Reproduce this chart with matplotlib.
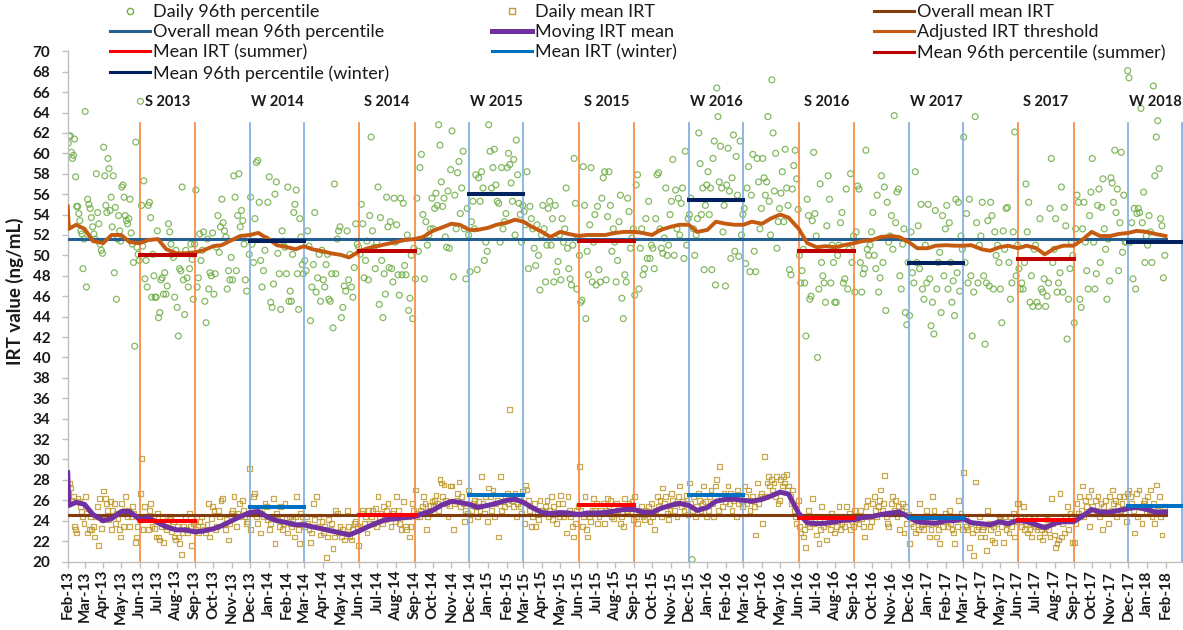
import numpy as np
import pandas as pd
import matplotlib
matplotlib.use("Agg")
import matplotlib.pyplot as plt
import matplotlib.dates as mdates
from matplotlib.lines import Line2D

plt.rcParams['font.family'] = ['Lato', 'DejaVu Sans']

# ---------------------------------------------------------------------------
# Daily 96th percentile of IRT (ng/mL), grouped by calendar month
# ---------------------------------------------------------------------------
p96_2013 = [
    [61.0, 61.7, 61.7, 60.1, 59.5, 59.8, 61.4, 57.7, 54.8, 54.8, 54.1, 53.4, 52.4, 52.1, 48.7, 51.6],
    [64.1, 46.9, 55.5, 55.0, 54.6, 53.7, 52.8, 52.1, 51.6, 58.0, 54.2, 53.1, 51.1, 50.5, 50.2],
    [60.6, 57.8, 54.9, 54.2, 59.5, 58.5, 54.4, 55.7, 52.8, 57.8, 48.3, 54.7, 45.7, 51.6, 53.9, 52.4, 51.4],
    [56.7, 56.9, 55.7, 53.9, 53.4, 53.1, 53.6, 55.5, 52.2, 51.1, 49.3, 41.1, 61.1, 50.8, 50.1, 49.5],
    [65.1, 54.9, 50.9, 57.3, 47.7, 49.5, 46.9, 54.9, 55.2, 53.7, 45.9, 50.1, 48.0, 45.9, 45.9, 52.4],
    [43.9, 44.4, 47.6, 47.8, 46.2, 48.3, 46.2, 47.0, 53.1, 52.3, 51.1, 50.1, 49.8, 45.9, 50.5],
    [44.9, 42.1, 48.7, 48.5, 56.7, 47.6, 44.2, 50.5, 47.8, 46.9, 48.7, 51.1, 49.6, 45.7, 51.1],
    [56.4, 46.9, 47.8, 52.1, 49.5, 50.5, 52.3, 45.5, 43.4, 51.6, 46.7, 48.3, 48.0, 52.2],
    [46.2, 48.2, 50.8, 53.9, 50.3, 52.8, 55.5, 53.2, 52.4, 51.8, 46.7, 48.5, 47.6, 49.8],
    [47.6, 57.8, 55.7, 48.5, 53.9, 58.0, 52.8, 54.4, 53.4, 51.1, 47.6, 46.5, 51.8, 50.1],
    [55.7, 51.1, 49.3, 53.6, 59.1, 59.3, 55.2, 49.5, 46.9, 48.5, 50.5, 51.6, 55.2],
]
p96_2014 = [
    [57.7, 45.4, 44.9, 47.2, 56.0, 57.2, 50.2, 48.2, 44.7, 52.4, 51.4, 50.8, 48.2],
    [56.7, 45.5, 46.5, 45.5, 50.1, 54.2, 55.0, 56.4, 48.2, 44.7, 53.6, 51.8, 49.1, 48.2],
    [49.5, 48.5, 52.4, 50.9, 43.6, 46.9, 49.1, 54.2, 46.4, 47.8, 50.1, 45.5, 50.5],
    [47.6, 46.9, 49.1, 50.1, 45.7, 45.5, 48.2, 42.9, 57.0, 48.2, 51.6, 52.4, 52.8],
    [43.9, 44.9, 47.0, 46.5, 52.4, 47.6, 50.1, 46.9, 45.9, 48.8, 53.1, 51.1, 50.8],
    [50.1, 55.0, 53.1, 47.8, 49.5, 51.4, 47.6, 53.9, 61.6, 52.4, 50.8, 48.7, 51.3],
    [56.7, 45.2, 53.7, 49.5, 43.9, 48.2, 46.2, 55.7, 52.8, 48.8, 53.3, 48.7, 47.4, 55.6, 51.3],
    [53.0, 48.1, 46.1, 55.6, 48.1, 55.1, 49.0, 48.1, 52.0, 44.6, 45.8, 50.0, 43.8, 50.7],
    [47.7, 55.6, 50.4, 58.6, 59.9, 54.0, 47.7, 53.3, 51.0, 52.0, 52.6, 55.6],
    [52.6, 54.6, 56.1, 54.9, 62.8, 60.8, 57.2, 54.8, 55.6, 51.8, 50.8, 56.3, 50.7, 58.4],
    [62.2, 47.9, 55.9, 52.6, 58.1, 59.2, 54.1, 56.6, 60.2, 52.6, 47.7, 54.6, 52.0],
    [48.4, 53.3, 55.3, 52.6, 57.9, 48.6, 57.6, 55.3, 58.2, 56.6, 49.5, 51.3, 50.4],
]
p96_2015 = [
    [62.8, 60.2, 56.6, 58.6, 60.4, 56.9, 55.3, 55.1, 51.3, 58.6, 52.6, 53.3, 54.1],
    [58.6, 60.0, 58.9, 57.1, 55.3, 59.4, 52.0, 61.3, 57.9, 55.1, 54.0, 51.3, 54.9],
    [54.3, 53.0, 58.2, 48.7, 54.8, 53.6, 52.6, 50.7, 49.0, 53.0, 50.0, 46.6, 52.0],
    [54.9, 52.6, 47.4, 51.0, 54.6, 55.3, 51.0, 53.6, 47.4, 54.9, 48.4, 49.4, 52.0],
    [47.6, 53.6, 51.3, 52.6, 56.6, 50.7, 48.7, 47.7, 47.1, 51.0, 59.5, 55.1, 46.7, 51.7],
    [50.0, 45.4, 45.6, 58.7, 54.9, 43.8, 50.4, 48.1, 53.0, 58.6, 47.4, 51.3, 54.0, 47.1],
    [54.8, 48.6, 47.4, 55.6, 57.6, 58.2, 47.6, 53.8, 58.2, 54.9, 50.4, 52.6, 51.3],
    [47.4, 49.5, 53.3, 55.9, 45.8, 43.8, 48.1, 47.4, 55.6, 54.3, 50.7, 51.7, 52.6],
    [46.1, 56.9, 57.9, 46.7, 50.7, 52.6, 48.1, 48.7, 53.6, 49.7, 55.3, 49.7, 51.0],
    [50.7, 48.7, 53.6, 57.9, 58.1, 52.6, 50.7, 50.2, 51.7, 56.6, 50.0, 51.0, 54.0],
    [55.3, 59.4, 50.0, 56.4, 52.6, 55.6, 52.0, 55.1, 56.6, 49.7, 60.2, 51.0, 53.6],
    [54.0, 55.6, 20.2, 52.6, 50.0, 52.0, 53.6, 62.0, 59.0, 54.0, 56.6, 48.6, 54.9, 56.9],
]
p96_2016 = [
    [58.2, 54.0, 56.6, 48.6, 59.5, 61.2, 47.1, 66.4, 63.6, 57.2, 60.7, 56.6, 52.3, 54.9, 47.0],
    [56.9, 60.5, 56.3, 49.7, 57.6, 61.8, 50.4, 59.7, 55.9, 49.9, 61.2, 52.0, 54.0],
    [54.6, 49.2, 56.6, 58.7, 48.4, 55.9, 59.9, 50.4, 48.4, 59.5, 57.2, 52.6, 54.6],
    [59.5, 57.6, 55.9, 57.2, 63.6, 55.3, 52.0, 67.2, 62.0, 56.3, 60.0, 50.7, 53.3, 54.6],
    [56.1, 58.2, 53.3, 60.4, 56.6, 54.9, 48.6, 48.1, 56.5, 58.8, 60.3, 57.5, 54.5],
    [50.0, 47.3, 48.5, 50.6, 47.3, 42.1, 55.5, 53.9, 45.7, 46.0, 53.4, 60.1, 54.1, 51.9],
    [40.0, 46.7, 57.0, 49.3, 48.0, 47.3, 45.4, 52.9, 57.8, 55.5, 47.3, 51.0, 49.3, 45.4],
    [45.4, 50.0, 51.0, 53.2, 54.2, 47.3, 47.7, 56.5, 46.7, 50.6, 58.0, 49.3, 51.9],
    [46.4, 52.3, 56.8, 56.5, 49.3, 46.4, 48.2, 48.7, 60.3, 50.6, 50.0, 51.0, 52.3],
    [54.2, 50.0, 48.7, 55.9, 46.4, 47.8, 57.8, 49.3, 56.7, 44.6, 55.2, 51.3, 51.9],
    [53.9, 50.6, 63.7, 53.2, 56.2, 56.5, 48.0, 46.7, 51.1, 52.6, 44.4, 43.2, 49.3],
    [44.1, 52.3, 48.3, 47.3, 58.2, 49.3, 52.9, 48.7, 55.0, 46.7, 45.7, 51.0, 47.3],
]
p96_2017 = [
    [55.0, 47.7, 43.1, 45.4, 42.3, 54.4, 46.7, 49.3, 50.3, 44.4, 53.9, 48.0, 52.6],
    [54.9, 46.7, 53.2, 49.3, 45.4, 47.5, 44.1, 55.5, 48.3, 55.2, 46.5, 51.9, 50.6],
    [61.6, 49.3, 54.1, 47.3, 55.5, 48.0, 42.1, 46.4, 63.6, 53.2, 47.3, 51.0, 51.9],
    [55.2, 48.0, 41.3, 47.3, 53.4, 47.0, 55.2, 53.9, 46.7, 52.3, 50.0, 51.0, 49.3],
    [46.7, 43.4, 52.4, 50.6, 54.6, 54.7, 49.3, 45.7, 47.3, 52.3, 62.1, 48.0, 51.0],
    [48.7, 46.7, 47.3, 46.7, 49.3, 57.0, 52.3, 55.2, 45.4, 48.0, 45.0, 50.6, 51.0],
    [45.4, 45.0, 53.6, 46.7, 46.4, 47.7, 45.0, 46.0, 47.3, 54.6, 59.5, 49.3, 50.6],
    [53.6, 46.4, 47.3, 48.3, 56.7, 46.4, 54.7, 52.9, 41.8, 45.7, 48.7, 51.3, 50.0],
    [43.4, 52.6, 55.9, 55.2, 45.7, 44.9, 52.6, 55.2, 51.3, 48.5, 46.7, 53.9, 56.2],
    [59.5, 51.3, 46.7, 48.2, 54.9, 56.5, 49.3, 54.7, 57.5, 52.6, 50.6, 45.7, 51.6, 47.5],
    [57.6, 57.1, 55.2, 60.3, 54.2, 56.5, 48.5, 53.2, 60.1, 50.3, 55.9, 51.3, 51.3, 68.1],
    [67.4, 51.3, 53.2, 47.7, 54.6, 46.7, 54.1, 54.6, 54.2, 64.4, 53.2, 56.2, 49.3, 51.9],
]
p96_2018 = [
    [51.0, 53.9, 52.3, 49.3, 66.6, 57.8, 61.6, 63.2, 58.5, 53.6, 52.9, 47.8, 50.0],
]

# ---------------------------------------------------------------------------
# Daily mean IRT (ng/mL), grouped by calendar month
# ---------------------------------------------------------------------------
irt_2013 = [
    [26.7, 27.7, 27.2, 26.0, 26.4, 23.4, 23.1, 22.8, 26.2, 25.9, 25.4, 24.9, 24.4, 23.7],
    [26.4, 24.7, 22.8, 23.1, 24.4, 23.1, 23.4, 22.4, 24.4, 25.4, 21.6, 26.2, 23.2, 24.1],
    [26.9, 26.2, 25.7, 25.0, 24.1, 25.9, 23.1, 25.0, 25.7, 23.7, 24.7, 24.2, 23.1, 22.4],
    [25.7, 23.4, 25.0, 26.4, 24.4, 25.0, 23.4, 24.4, 25.4, 24.7, 21.9, 22.4, 23.4, 24.1],
    [26.7, 30.1, 23.1, 25.4, 24.4, 24.1, 23.1, 25.0, 25.7, 23.4, 24.4, 23.2, 22.4, 24.7],
    [22.4, 22.1, 23.4, 24.4, 21.9, 23.4, 23.1, 23.7, 24.4, 24.1, 22.9, 23.9, 22.4, 22.1],
    [23.4, 22.4, 21.8, 20.7, 22.8, 23.4, 24.4, 23.1, 22.8, 24.7, 23.4, 21.6, 23.7, 23.9],
    [23.1, 23.4, 22.8, 23.9, 24.4, 23.4, 23.1, 22.8, 23.6, 25.7, 22.4, 24.2, 25.4],
    [25.0, 23.1, 23.4, 25.0, 24.4, 26.0, 26.2, 23.6, 23.1, 24.1, 22.1, 23.7, 24.7],
    [25.0, 26.4, 24.4, 23.4, 24.7, 25.7, 24.4, 26.0, 25.0, 24.4, 23.7, 23.9, 29.1],
    [23.1, 25.0, 26.4, 26.7, 24.4, 23.7, 25.0, 22.8, 24.7, 24.4, 25.7, 25.4, 24.1],
]
irt_2014 = [
    [23.1, 23.7, 24.4, 26.2, 21.8, 24.7, 24.1, 23.4, 25.4, 23.1, 23.7, 25.7, 24.2],
    [22.8, 24.4, 23.7, 23.4, 24.1, 22.4, 24.4, 26.4, 23.1, 21.8, 24.7, 24.4, 23.7],
    [23.4, 24.4, 23.7, 23.1, 21.9, 22.8, 25.7, 24.1, 26.4, 23.4, 24.4, 22.6, 23.9],
    [22.8, 23.4, 20.4, 22.4, 24.1, 23.1, 23.7, 21.3, 22.4, 25.0, 24.7, 22.8, 23.4],
    [22.4, 23.1, 22.1, 22.8, 25.0, 23.4, 22.4, 22.1, 23.1, 23.7, 23.9, 23.4, 21.6],
    [23.4, 24.7, 25.0, 23.7, 24.4, 22.8, 25.0, 23.7, 24.4, 25.0, 23.7, 25.2, 23.4],
    [26.4, 24.4, 24.7, 23.7, 25.4, 24.1, 25.0, 25.7, 24.4, 23.4, 24.7, 25.0, 23.9],
    [26.4, 25.0, 23.7, 23.1, 24.4, 25.9, 23.4, 23.1, 24.4, 22.4, 23.4, 25.7, 25.0],
    [27.0, 24.4, 24.7, 24.4, 25.0, 25.4, 26.4, 25.7, 23.1, 24.4, 25.0, 25.5, 25.9],
    [25.4, 26.0, 26.5, 25.7, 25.0, 28.0, 27.7, 26.4, 27.5, 26.0, 25.7, 24.4, 25.5, 27.4],
    [27.4, 23.1, 25.7, 26.0, 26.7, 27.8, 25.4, 26.4, 25.7, 23.9, 25.0, 24.7, 27.0],
    [24.1, 25.0, 25.7, 26.0, 25.4, 24.4, 25.9, 25.0, 28.3, 25.7, 24.7, 26.4, 23.9],
]
irt_2015 = [
    [27.2, 26.4, 25.0, 27.0, 24.4, 25.7, 26.0, 22.4, 28.3, 25.0, 25.9, 25.4, 26.4],
    [26.7, 25.7, 34.9, 26.0, 26.4, 25.4, 26.7, 24.4, 25.7, 26.4, 25.4, 24.7, 26.9],
    [23.7, 27.5, 27.0, 26.0, 25.0, 23.4, 24.4, 25.7, 23.4, 24.7, 24.1, 26.0, 25.0],
    [25.0, 24.7, 25.4, 26.0, 24.4, 25.0, 26.4, 24.1, 25.4, 24.7, 23.7, 25.7, 24.4],
    [26.5, 25.7, 24.4, 24.7, 22.8, 26.4, 25.0, 24.4, 23.4, 22.4, 23.7, 25.0, 25.4],
    [29.3, 25.0, 23.4, 24.4, 26.4, 23.1, 22.4, 24.4, 23.9, 25.0, 26.2, 25.0, 25.7],
    [23.7, 24.4, 25.0, 24.7, 25.7, 23.7, 25.0, 26.2, 25.4, 26.0, 24.4, 24.2, 24.7],
    [25.7, 25.0, 25.4, 23.7, 24.4, 23.4, 26.2, 25.0, 24.7, 25.7, 25.4, 25.9, 24.1],
    [26.4, 24.4, 23.7, 25.0, 24.7, 25.4, 24.4, 24.1, 25.0, 24.7, 25.4, 23.9, 25.7],
    [24.4, 23.1, 25.0, 26.4, 25.4, 26.0, 24.4, 27.2, 25.7, 26.4, 24.7, 24.1, 25.0],
    [26.7, 26.0, 25.0, 25.7, 24.4, 26.4, 27.4, 25.4, 25.9, 25.0, 25.7, 26.5, 24.6],
    [27.7, 25.7, 25.0, 26.4, 24.4, 25.4, 26.7, 26.0, 25.0, 25.7, 27.4, 25.9, 24.4],
]
irt_2016 = [
    [25.0, 26.4, 27.0, 25.7, 24.4, 27.4, 28.0, 25.0, 29.3, 26.4, 25.4, 26.7, 25.9],
    [26.4, 27.4, 25.7, 26.7, 25.0, 26.0, 26.4, 24.4, 27.0, 25.7, 26.4, 26.0, 25.4],
    [27.4, 26.4, 25.7, 27.0, 25.0, 26.0, 26.4, 25.4, 22.6, 27.7, 25.7, 26.4, 26.7],
    [23.7, 30.3, 26.4, 27.7, 28.3, 27.4, 28.0, 27.0, 27.7, 26.4, 28.3, 25.7, 26.0],
    [28.0, 27.4, 28.3, 27.7, 28.5, 27.0, 27.4, 26.4, 25.7, 27.0, 25.0, 24.4, 23.7, 26.0],
    [23.4, 22.8, 24.4, 22.4, 23.1, 21.4, 23.7, 25.0, 23.4, 24.4, 26.2, 23.7, 24.1, 22.6],
    [24.4, 21.8, 23.1, 25.4, 23.4, 24.1, 22.1, 23.7, 24.4, 23.1, 24.7, 23.9, 22.8],
    [23.4, 24.4, 25.4, 23.1, 23.7, 24.4, 23.4, 25.4, 24.1, 24.7, 23.1, 23.9, 23.4],
    [25.0, 24.1, 24.4, 23.7, 25.0, 24.2, 23.4, 22.4, 25.4, 26.0, 24.4, 23.4, 23.9],
    [25.7, 26.4, 25.0, 24.4, 25.4, 26.0, 27.0, 25.0, 25.7, 28.4, 24.4, 23.7, 23.4, 24.7],
    [25.7, 26.4, 25.0, 26.0, 24.4, 25.4, 23.1, 25.0, 25.7, 22.8, 25.4, 23.7, 24.6],
    [21.8, 23.7, 24.4, 23.4, 22.8, 24.1, 23.1, 25.7, 23.4, 23.7, 23.1, 24.2, 25.0],
]
irt_2017 = [
    [23.7, 22.4, 23.1, 26.4, 25.0, 23.7, 22.4, 23.1, 21.8, 24.4, 23.4, 23.9, 24.7],
    [24.1, 23.4, 25.0, 23.7, 23.1, 22.8, 21.8, 24.4, 23.4, 26.0, 24.1, 24.7, 23.1],
    [28.7, 24.4, 23.4, 23.1, 21.4, 23.7, 22.8, 20.6, 27.8, 23.1, 23.4, 24.4, 22.4],
    [23.1, 23.4, 22.4, 21.1, 25.0, 23.7, 23.1, 22.1, 23.4, 21.9, 23.7, 22.8, 24.4],
    [24.1, 23.4, 21.9, 24.4, 23.1, 23.7, 22.8, 24.4, 23.4, 24.7, 22.4, 23.9, 25.7],
    [25.7, 24.4, 23.4, 25.4, 23.1, 23.7, 22.8, 24.4, 23.1, 22.4, 23.7, 24.2, 23.4],
    [23.1, 23.4, 22.4, 23.1, 22.1, 22.8, 23.4, 24.1, 23.1, 22.4, 26.2, 23.7, 22.6],
    [21.4, 21.8, 22.1, 26.7, 22.4, 23.7, 22.8, 24.4, 25.4, 23.1, 24.7, 24.4, 21.9],
    [21.9, 23.7, 25.7, 24.7, 26.4, 25.0, 27.4, 24.4, 26.0, 25.4, 26.4, 23.4, 27.0],
    [25.4, 24.7, 26.0, 25.0, 26.4, 24.4, 25.7, 23.1, 25.4, 26.0, 24.7, 23.7, 26.4],
    [25.0, 27.0, 25.7, 26.0, 24.4, 25.4, 26.4, 25.0, 25.7, 26.4, 24.7, 23.9, 26.7],
    [27.0, 26.4, 25.7, 25.0, 22.8, 26.7, 24.4, 27.0, 25.4, 23.7, 25.7, 26.0, 24.7],
]
irt_2018 = [
    [26.4, 25.0, 27.0, 24.4, 25.7, 23.7, 27.5, 25.0, 26.4, 24.4, 22.6, 24.7, 25.4],
]

# ---------------------------------------------------------------------------
# Smoothed series, sampled on the 1st and 15th of each month (from 15 Feb 2013)
# ---------------------------------------------------------------------------
moving_irt_start = [28.7, 25.5]          # 1 and 3 Feb 2013
moving_irt = [
    25.8,
    25.6, 24.6, 24.0, 24.2, 24.9, 24.9, 24.1, 24.3, 23.8, 23.4, 23.1, 23.1,
    22.9, 23.0, 23.2, 23.5, 24.0, 24.4, 24.8, 24.9,
    24.3, 24.0, 23.8, 23.6, 23.6, 23.4, 23.2, 23.0, 22.8, 22.6, 23.0, 23.4,
    23.8, 24.1, 24.2, 24.3, 24.4, 24.7, 25.0, 25.5, 25.9, 25.8, 25.6, 25.3,
    25.5, 25.7, 26.0, 26.1, 25.8, 25.3, 24.8, 24.7, 24.8, 24.75, 24.6, 24.75,
    24.75, 24.8, 24.95, 25.1, 25.1, 24.85, 24.8, 25.2, 25.5, 25.7, 25.5, 25.0,
    25.3, 25.9, 26.1, 26.1, 26.0, 25.9, 26.1, 26.4, 26.8, 26.6, 24.7, 23.8,
    23.7, 23.75, 23.9, 24.05, 24.1, 24.3, 24.4, 24.6, 24.75, 24.85, 24.35, 23.9,
    23.8, 23.75, 24.0, 24.0, 24.2, 23.8, 23.7, 23.6, 23.9, 23.7, 24.05, 23.9,
    23.6, 23.3, 23.75, 23.9, 23.9, 24.4, 25.1, 24.85, 24.85, 25.0, 25.2, 25.3,
    25.1, 24.85,
    24.85,
]
threshold_start = [54.8, 52.6]           # 1 and 3 Feb 2013
threshold = [
    53.0,
    52.6, 51.4, 51.2, 52.0, 52.0, 51.3, 51.2, 51.5, 51.6, 50.6, 50.2, 50.2,
    50.3, 50.5, 50.9, 51.0, 51.5, 51.9, 52.0, 52.2,
    51.6, 51.0, 50.8, 50.6, 50.9, 50.6, 50.4, 50.2, 50.05, 49.8, 50.4, 50.7,
    50.9, 51.1, 51.3, 51.5, 51.6, 51.8, 52.4, 52.7, 53.1, 53.0, 52.5, 52.5,
    52.7, 53.0, 53.2, 53.5, 53.3, 52.8, 52.3, 51.8, 52.3, 52.1, 51.9, 52.0,
    52.0, 52.0, 52.2, 52.3, 52.3, 52.2, 52.0, 52.5, 52.8, 53.0, 53.0, 52.3,
    52.5, 53.3, 53.1, 53.0, 53.0, 53.3, 53.1, 53.6, 54.0, 53.7, 52.6, 51.2,
    50.8, 50.9, 50.8, 51.0, 51.2, 51.4, 51.5, 51.8, 51.9, 51.8, 51.3, 50.7,
    50.7, 50.95, 51.0, 50.95, 50.95, 51.0, 50.6, 50.45, 50.8, 50.95, 50.7, 50.95,
    50.7, 50.1, 50.7, 50.95, 50.95, 51.5, 52.3, 51.9, 51.9, 52.1, 52.2, 52.4,
    52.3, 52.1,
    51.9,
]

# ---------------------------------------------------------------------------
# Overall and seasonal means
# ---------------------------------------------------------------------------
overall_mean_irt = 24.55
overall_mean_p96 = 51.6

summer_labels = ['S 2013', 'S 2014', 'S 2015', 'S 2016', 'S 2017']
summer_years = [2013, 2014, 2015, 2016, 2017]
summer_irt = [24.0, 24.55, 25.5, 24.3, 24.1]
summer_p96 = [50.0, 50.4, 51.4, 50.4, 49.6]

winter_labels = ['W 2014', 'W 2015', 'W 2016', 'W 2017', 'W 2018']
winter_years = [2014, 2015, 2016, 2017, 2018]
winter_irt = [25.3, 26.5, 26.5, 24.3, 25.4]
winter_p96 = [51.4, 56.0, 55.4, 49.3, 51.3]

# ---------------------------------------------------------------------------
# Colours
# ---------------------------------------------------------------------------
C_P96 = '#70AD47'
C_IRT = '#BF9A30'
C_OVR_P96 = '#255E91'
C_OVR_IRT = '#843C0C'
C_MOVING = '#7030A0'
C_THRESH = '#C55A11'
C_S_IRT = '#FF0000'
C_W_IRT = '#0070C0'
C_S_P96 = '#C00000'
C_W_P96 = '#002060'
C_S_LINE = '#F4904A'
C_W_LINE = '#85B3E3'


def spread_over_month(year_blocks, first_month):
    """Place each month's daily values evenly across that month."""
    xs, ys = [], []
    k = 0
    for block in year_blocks:
        for vals in block:
            start = pd.Timestamp(first_month) + pd.DateOffset(months=k)
            ndays = start.days_in_month
            n = len(vals)
            for i, v in enumerate(vals):
                xs.append(start + pd.Timedelta(days=(i + 0.5) * ndays / n))
                ys.append(v)
            k += 1
    return mdates.date2num(pd.DatetimeIndex(xs).to_pydatetime()), np.array(ys)


def semi_monthly_dates():
    d = [pd.Timestamp('2013-02-15')]
    for m in pd.date_range('2013-03-01', '2018-01-01', freq='MS'):
        d += [m, m + pd.Timedelta(days=14)]
    d.append(pd.Timestamp('2018-02-01'))
    return d


def num(s):
    return mdates.date2num(pd.Timestamp(s).to_pydatetime())


p96_x, p96_y = spread_over_month([p96_2013, p96_2014, p96_2015, p96_2016, p96_2017, p96_2018], '2013-02-01')
irt_x, irt_y = spread_over_month([irt_2013, irt_2014, irt_2015, irt_2016, irt_2017, irt_2018], '2013-02-01')

start_dates = [pd.Timestamp('2013-02-01'), pd.Timestamp('2013-02-03')]
smooth_dates = start_dates + semi_monthly_dates()
smooth_x = mdates.date2num(pd.DatetimeIndex(smooth_dates).to_pydatetime())
moving_y = np.array(moving_irt_start + moving_irt)
thresh_y = np.array(threshold_start + threshold)

# ---------------------------------------------------------------------------
# Figure
# ---------------------------------------------------------------------------
W, H = 1183, 630
fig = plt.figure(figsize=(W / 100, H / 100), dpi=100)
ax = fig.add_axes([67.7 / W, 68.5 / H, (W - 67.7) / W, 510.2 / H])

ax.scatter(p96_x, p96_y, s=18, marker='o', facecolors='none', edgecolors=C_P96,
           linewidths=0.9, alpha=0.85, zorder=2)
ax.scatter(irt_x, irt_y, s=12, marker='s', facecolors='none', edgecolors=C_IRT,
           linewidths=0.9, alpha=0.85, zorder=2)

# season boundaries
for y in summer_years:
    for d in (f'{y}-06-01', f'{y}-09-01'):
        ax.plot([num(d), num(d)], [20, 63], color=C_S_LINE, lw=1.3, zorder=2.5)
for y in winter_years:
    for d in (f'{y - 1}-12-01', f'{y}-03-01'):
        ax.plot([num(d), num(d)], [20, 63], color=C_W_LINE, lw=1.3, zorder=2.5)

x0, x1 = num('2013-02-01'), num('2018-02-01')
ax.plot([x0, x1], [overall_mean_p96] * 2, color=C_OVR_P96, lw=2.2, zorder=3)
ax.plot([x0, x1], [overall_mean_irt] * 2, color=C_OVR_IRT, lw=2.2, zorder=3)
ax.plot(smooth_x, thresh_y, color=C_THRESH, lw=2.8, zorder=4, solid_joinstyle='round')
ax.plot(smooth_x, moving_y, color=C_MOVING, lw=3.6, zorder=4, solid_joinstyle='round')

for lab, y, mi, mp in zip(summer_labels, summer_years, summer_irt, summer_p96):
    a, b = num(f'{y}-06-01'), num(f'{y}-09-01')
    ax.plot([a, b], [mi, mi], color=C_S_IRT, lw=2.9, zorder=5)
    ax.plot([a, b], [mp, mp], color=C_S_P96, lw=2.9, zorder=5)
    ax.text((a + b) / 2, 65, lab, ha='center', va='center', fontsize=10.5,
            fontweight='bold', color='#1a1a1a')
for lab, y, mi, mp in zip(winter_labels, winter_years, winter_irt, winter_p96):
    a, b = num(f'{y - 1}-12-01'), num(f'{y}-03-01')
    ax.plot([a, b], [mi, mi], color=C_W_IRT, lw=2.9, zorder=5)
    ax.plot([a, b], [mp, mp], color=C_W_P96, lw=2.9, zorder=5)
    ax.text((a + b) / 2, 65, lab, ha='center', va='center', fontsize=10.5,
            fontweight='bold', color='#1a1a1a')

# axes styling
ax.set_xlim(num('2013-02-01'), num('2018-03-02'))
ax.set_ylim(20, 70)
ax.set_yticks(np.arange(20, 71, 2))
month_ticks = pd.date_range('2013-02-01', '2018-02-01', freq='MS')
ax.set_xticks(mdates.date2num(month_ticks.to_pydatetime()))
ax.set_xticklabels([d.strftime('%b-%y') for d in month_ticks], rotation=90)
for s in ('top', 'right'):
    ax.spines[s].set_visible(False)
for s in ('left', 'bottom'):
    ax.spines[s].set_color('#BFBFBF')
    ax.spines[s].set_linewidth(1.0)
ax.tick_params(axis='both', colors='#BFBFBF', length=4.5, width=1.0, direction='out')
ax.tick_params(axis='y', pad=8, labelsize=11, labelcolor='#1a1a1a')
ax.tick_params(axis='x', pad=2, labelsize=11, labelcolor='#1a1a1a')
for t in ax.get_xticklabels() + ax.get_yticklabels():
    t.set_fontweight('bold')
ax.set_ylabel('IRT value (ng/mL)', fontsize=13.5, fontweight='bold', color='#1a1a1a')
ax.yaxis.set_label_coords(-44 / (W - 67.7), 0.53)

# legend, three columns
def h_line(c, lw=2.2):
    return Line2D([], [], color=c, lw=lw)

columns = [
    (110, [(Line2D([], [], ls='none', marker='o', mfc='none', mec=C_P96, ms=4.5, mew=1.0), 'Daily 96th percentile'),
           (h_line(C_OVR_P96), 'Overall mean 96th percentile'),
           (h_line(C_S_IRT), 'Mean IRT (summer)'),
           (h_line(C_W_P96), 'Mean 96th percentile (winter)')]),
    (492, [(Line2D([], [], ls='none', marker='s', mfc='none', mec=C_IRT, ms=4, mew=1.0), 'Daily mean IRT'),
           (h_line(C_MOVING, 3.6), 'Moving IRT mean'),
           (h_line(C_W_IRT), 'Mean IRT (winter)')]),
    (874, [(h_line(C_OVR_IRT), 'Overall mean IRT'),
           (h_line(C_THRESH), 'Adjusted IRT threshold'),
           (h_line(C_S_P96), 'Mean 96th percentile (summer)')]),
]
for xpix, items in columns:
    leg = fig.legend([h for h, _ in items], [t for _, t in items], loc='upper left',
                     bbox_to_anchor=(xpix / W, 1 - 4 / H), frameon=False,
                     fontsize=13, handlelength=2.2, handletextpad=0.2,
                     labelspacing=0.24, borderpad=0.0, borderaxespad=0.0)
    for t in leg.get_texts():
        t.set_color('#1a1a1a')

fig.savefig('out.png', dpi=100)
